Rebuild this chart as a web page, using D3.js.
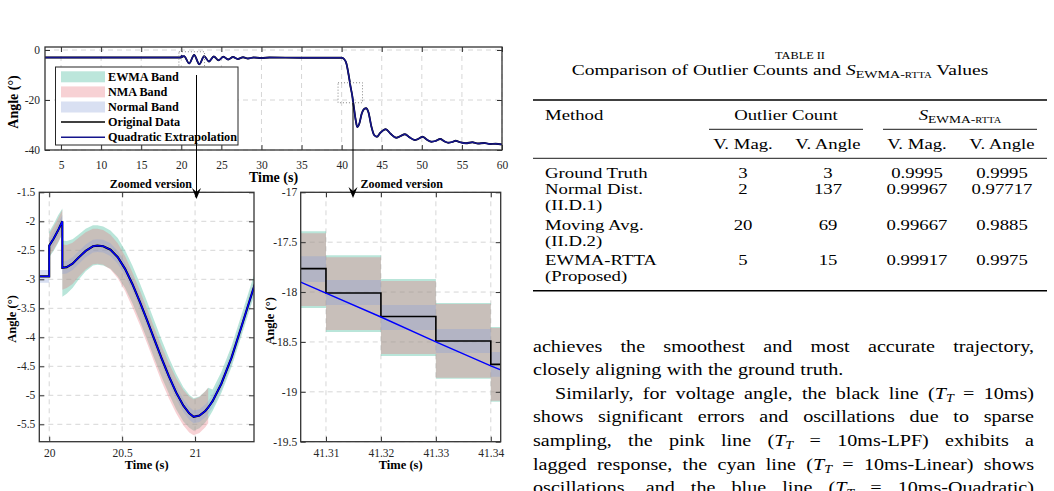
<!DOCTYPE html>
<html>
<head>
<meta charset="utf-8">
<script src="https://cdn.jsdelivr.net/npm/d3@7"></script>
<style>
html, body { margin: 0; padding: 0; background: #fff; }
svg { display: block; }
</style>
</head>
<body>
<script>
// ---- overview (top panel) ----
var overviewTime = [3, 10, 19.95, 20.05, 20.1, 20.33, 20.98, 21.6, 22.25, 22.85, 23.45, 24.05, 24.65, 25.25, 25.85,
    26.45, 27.05, 27.7, 28.3, 29, 30, 31, 35, 40, 40.3, 40.6, 40.9, 41.1, 41.32, 41.55, 41.75, 41.95, 42.2, 42.5,
    42.8, 43.05, 43.35, 43.7, 44.05, 44.4, 44.8, 45.5, 46.1, 46.8, 47.3, 47.9, 48.5, 49.1, 49.6, 50.1, 50.6, 51.2,
    51.7, 52.3, 52.8, 53.3, 53.8, 54.2, 54.8, 55.5, 56.3, 57, 57.8, 58.5, 59.2, 60];
var overviewAngle = [-3, -3, -3, -2.3, -2.8, -2.42, -5.37, -2, -5.7, -2.5, -4.6, -2.6, -4.1, -2.7, -3.8,
    -2.8, -3.6, -2.9, -3.4, -3, -3.2, -3, -3.1, -3.1, -3.6, -5.5, -10.5, -14.5, -18.25, -23.5, -28, -30.8, -29.5, -25.5,
    -23.6, -23.3, -25, -30.5, -34, -34.7, -33.2, -31.7, -33.5, -35.1, -34.5, -33.7, -35, -36, -35.5, -34.7, -35.8, -36.7,
    -36.4, -35.6, -36.5, -37.1, -36.8, -36.3, -36.9, -37.3, -36.9, -37.4, -37.2, -37.6, -37.5, -37.8];
var overviewXTicks = [5, 10, 15, 20, 25, 30, 35, 40, 45, 50, 55, 60];
var overviewYTicks = [0, -20, -40];
// dotted boxes: [t0, t1, angleTop, angleBottom]
var zoomBoxes = [[19.7, 22.9, -0.7, -10], [39.55, 42.6, -13.1, -21.1]];
var legendLabels = ["EWMA Band", "NMA Band", "Normal Band", "Original Data", "Quadratic Extrapolation"];

// ---- zoom 1 (20 s event) ----
var detailTime = [19.93, 20.00, 20.00, 20.03, 20.06, 20.09, 20.09, 20.12, 20.16, 20.20, 20.25, 20.30, 20.33, 20.37,
    20.42, 20.47, 20.52, 20.57, 20.62, 20.67, 20.72, 20.77, 20.82, 20.87, 20.92, 20.96, 20.99, 21.03, 21.07, 21.09,
    21.12, 21.18, 21.25, 21.32, 21.41];
var detailAngle = [-2.95, -2.95, -2.42, -2.30, -2.16, -2.00, -2.80, -2.79, -2.73, -2.63, -2.51, -2.43, -2.42, -2.43,
    -2.49, -2.62, -2.82, -3.08, -3.38, -3.70, -4.03, -4.36, -4.67, -4.95, -5.18, -5.31, -5.37, -5.35, -5.27, -5.21,
    -5.10, -4.80, -4.35, -3.80, -3.08];
var ewmaUp = [null, null, .24, .25, .26, .22, .47, .45, .42, .40, .38, .36, .35, .34, .33, .33, .32, .32, .32, .32,
    .32, .32, .32, .32, .32, .32, .32, .33, .34, .34, .20, .20, .20, .20, .20];
var ewmaDown = [null, null, .20, .21, .22, .22, .50, .46, .42, .38, .35, .33, .33, .33, .33, .33, .33, .33, .33, .33,
    .33, .32, .30, .29, .27, .25, .24, .22, .20, .19, .17, .16, .16, .16, .16];
var nmaUp = [null, null, .20, .21, .21, .20, .40, .38, .36, .34, .32, .30, .29, .28, .26, .24, .22, .20, .20, .20,
    .20, .21, .23, .25, .27, .29, .30, .32, .34, .34, null, null, null, null, null];
var nmaDown = [null, null, .18, .19, .20, .22, .38, .36, .35, .33, .32, .31, .31, .32, .34, .36, .38, .40, .40, .40,
    .40, .40, .38, .36, .34, .33, .32, .30, .28, .27, null, null, null, null, null];
var normalHalf = 0.11;
var detailXTicks = [20, 20.5, 21];
var detailYTicks = [-5.5, -5, -4.5, -4, -3.5, -3, -2.5, -2, -1.5];

// ---- zoom 2 (41.3 s event) ----
var stepEdges = [41.3054, 41.31, 41.32, 41.33, 41.34, 41.3418];
var stepAngle = [-17.765, -18.01, -18.245, -18.49, -18.725];
var stepEwmaHi = [-17.39, -17.63, -17.87, -18.11, -18.35];
var stepEwmaLo = [-18.16, -18.40, -18.64, -18.87, -19.10];
var stepNmaHi = [-17.41, -17.65, -17.89, -18.12, -18.36];
var stepNmaLo = [-18.14, -18.38, -18.62, -18.86, -19.09];
var stepNormHi = [-17.64, -17.88, -18.13, -18.37, -18.60];
var stepNormLo = [-17.90, -18.13, -18.38, -18.61, -18.85];
var extrapTime = [41.3054, 41.31, 41.32, 41.33, 41.34, 41.3418];
var extrapAngle = [-17.90, -18.01, -18.25, -18.50, -18.74, -18.78];
var stepXTicks = [41.31, 41.32, 41.33, 41.34];
var stepYTicks = [-19.5, -19, -18.5, -18, -17.5, -17];

// ---- table ----
var tableMethods = [["Ground Truth"], ["Normal Dist.", "(II.D.1)"], ["Moving Avg.", "(II.D.2)"], ["EWMA-RTTA", "(Proposed)"]];
var outlierMag = ["3", "2", "20", "5"];
var outlierAngle = ["3", "137", "69", "15"];
var scoreMag = ["0.9995", "0.99967", "0.99667", "0.99917"];
var scoreAngle = ["0.9995", "0.97717", "0.9885", "0.9975"];

// ---- body text ----
var paraLines = [
    "achieves the smoothest and most accurate trajectory,",
    "closely aligning with the ground truth.",
    "Similarly, for voltage angle, the black line (T_T = 10ms)",
    "shows significant errors and oscillations due to sparse",
    "sampling, the pink line (T_T = 10ms-LPF) exhibits a",
    "lagged response, the cyan line (T_T = 10ms-Linear) shows",
    "oscillations, and the blue line (T_T = 10ms-Quadratic)"
];

var colors = {
    ewma: "rgb(80,190,160)", nma: "rgb(230,115,125)", normal: "rgb(140,160,215)",
    navy: "#14148c", blue: "#0000ff", frame: "#333333", grid: "#d6d6d6"
};
var serif = "'Liberation Serif', 'Times New Roman', serif";

var svg = d3.select("body").append("svg")
    .attr("width", 1054).attr("height", 491)
    .attr("font-family", serif)
    .style("background", "#fff");

var clipCount = 0;

function makePanel(p) {
    var x = d3.scaleLinear().domain(p.xDomain).range([p.left, p.right]);
    var y = d3.scaleLinear().domain(p.yDomain).range([p.bottom, p.top]);
    var g = svg.append("g");
    var id = "clip" + (clipCount++);
    svg.append("clipPath").attr("id", id).append("rect")
        .attr("x", p.left).attr("y", p.top)
        .attr("width", p.right - p.left).attr("height", p.bottom - p.top);
    var grid = g.append("g").attr("stroke", colors.grid).attr("stroke-dasharray", "5,4").attr("stroke-width", 1);
    grid.selectAll(".gx").data(p.xTicks).join("line").attr("class", "gx")
        .attr("x1", function(d) { return x(d); }).attr("x2", function(d) { return x(d); })
        .attr("y1", p.top).attr("y2", p.bottom);
    grid.selectAll(".gy").data(p.yTicks).join("line").attr("class", "gy")
        .attr("y1", function(d) { return y(d); }).attr("y2", function(d) { return y(d); })
        .attr("x1", p.left).attr("x2", p.right);
    var plot = g.append("g").attr("clip-path", "url(#" + id + ")");
    return { x: x, y: y, g: g, plot: plot, p: p };
}

function finishPanel(P) {
    var x = P.x, y = P.y, g = P.g, p = P.p;
    var style = function(sel) {
        sel.select(".domain").remove();
        sel.attr("font-family", null).attr("font-size", p.tickFont);
        sel.selectAll(".tick line").attr("stroke", colors.frame);
        sel.selectAll(".tick text").attr("fill", "#262626");
    };
    var fmt = function(d) { return String(d); };
    g.append("g").attr("transform", "translate(0," + p.bottom + ")")
        .call(d3.axisBottom(x).tickValues(p.xTicks).tickSize(-5).tickPadding(p.xPad).tickFormat(fmt)).call(style);
    g.append("g").attr("transform", "translate(0," + p.top + ")")
        .call(d3.axisTop(x).tickValues(p.xTicks).tickSize(-5).tickFormat("")).call(style);
    g.append("g").attr("transform", "translate(" + p.left + ",0)")
        .call(d3.axisLeft(y).tickValues(p.yTicks).tickSize(-5).tickPadding(p.yPad).tickFormat(fmt)).call(style);
    g.append("g").attr("transform", "translate(" + p.right + ",0)")
        .call(d3.axisRight(y).tickValues(p.yTicks).tickSize(-5).tickFormat("")).call(style);
    g.append("rect").attr("x", p.left).attr("y", p.top)
        .attr("width", p.right - p.left).attr("height", p.bottom - p.top)
        .attr("fill", "none").attr("stroke", colors.frame).attr("stroke-width", 1.3);
    // axis titles
    g.append("text").attr("x", (p.left + p.right) / 2).attr("y", p.xLabelY)
        .attr("text-anchor", "middle").attr("font-weight", "bold").attr("font-size", p.labelFont)
        .text("Time (s)");
    g.append("text").attr("transform", "translate(" + p.yLabelX + "," + p.yLabelY + ") rotate(-90)")
        .attr("text-anchor", "middle").attr("font-weight", "bold").attr("font-size", p.labelFont)
        .text("Angle (°)");
}

// ================= top overview panel =================
var ov = makePanel({
    left: 45, right: 502, top: 47, bottom: 150,
    xDomain: [3, 60], yDomain: [-40, 1.2],
    xTicks: overviewXTicks, yTicks: overviewYTicks,
    tickFont: 11.5, xPad: 10.5, yPad: 5, labelFont: 14,
    xLabelY: 182, yLabelX: 18, yLabelY: 102
});

var overviewPts = overviewTime.map(function(t, i) { return [t, overviewAngle[i]]; });
var ovLine = d3.line().x(function(d) { return ov.x(d[0]); }).y(function(d) { return ov.y(d[1]); })
    .curve(d3.curveMonotoneX);
ov.plot.append("path").datum(overviewPts).attr("d", ovLine)
    .attr("fill", "none").attr("stroke", "#000").attr("stroke-width", 1.8);
ov.plot.append("path").datum(overviewPts).attr("d", ovLine)
    .attr("fill", "none").attr("stroke", colors.navy).attr("stroke-width", 1.5);

ov.g.selectAll(".zbox").data(zoomBoxes).join("rect").attr("class", "zbox")
    .attr("x", function(d) { return ov.x(d[0]); })
    .attr("y", function(d) { return ov.y(d[2]); })
    .attr("width", function(d) { return ov.x(d[1]) - ov.x(d[0]); })
    .attr("height", function(d) { return ov.y(d[3]) - ov.y(d[2]); })
    .attr("fill", "none").attr("stroke", "#777").attr("stroke-width", 0.9).attr("stroke-dasharray", "1,2");

// legend
var leg = ov.g.append("g");
leg.append("rect").attr("x", 55.5).attr("y", 67).attr("width", 182.5).attr("height", 78)
    .attr("fill", "#fff").attr("stroke", "#262626").attr("stroke-width", 1);
var legRows = leg.selectAll(".lr").data(legendLabels).join("g").attr("class", "lr")
    .attr("transform", function(d, i) { return "translate(0," + (76.8 + i * 15.1) + ")"; });
legRows.each(function(d, i) {
    var r = d3.select(this);
    if (i < 3) {
        var c = [colors.ewma, colors.nma, colors.normal][i];
        r.append("rect").attr("x", 61).attr("y", -5.5).attr("width", 44).attr("height", 11)
            .attr("fill", c).attr("fill-opacity", i === 0 ? 0.38 : 0.33);
    } else {
        r.append("line").attr("x1", 61).attr("x2", 105).attr("y1", 0).attr("y2", 0)
            .attr("stroke", i === 3 ? "#000" : colors.navy).attr("stroke-width", 1.5);
    }
    r.append("text").attr("x", 108).attr("y", 4).attr("font-size", 12.2).attr("font-weight", "bold").text(d);
});

// ================= zoom panel 1 =================
var z1 = makePanel({
    left: 39.3, right: 254, top: 192.3, bottom: 441.7,
    xDomain: [19.932, 21.404], yDomain: [-5.8, -1.5],
    xTicks: detailXTicks, yTicks: detailYTicks,
    tickFont: 11.5, xPad: 6.8, yPad: 4, labelFont: 12.5,
    xLabelY: 469, yLabelX: 16, yLabelY: 319
});

var detail = detailTime.map(function(t, i) {
    return { t: t, a: detailAngle[i], eu: ewmaUp[i], ed: ewmaDown[i], nu: nmaUp[i], nd: nmaDown[i] };
});
function bandArea(P, upKey, downKey) {
    return d3.area()
        .defined(function(d) { return d[upKey] != null; })
        .x(function(d) { return P.x(d.t); })
        .y0(function(d) { return P.y(d.a - d[downKey]); })
        .y1(function(d) { return P.y(d.a + d[upKey]); });
}
z1.plot.append("path").datum(detail).attr("d", bandArea(z1, "eu", "ed"))
    .attr("fill", colors.ewma).attr("fill-opacity", 0.4);
z1.plot.append("path").datum(detail).attr("d", bandArea(z1, "nu", "nd"))
    .attr("fill", colors.nma).attr("fill-opacity", 0.33);
z1.plot.append("path").datum(detail).attr("d", d3.area()
        .x(function(d) { return z1.x(d.t); })
        .y0(function(d) { return z1.y(d.a - normalHalf); })
        .y1(function(d) { return z1.y(d.a + normalHalf); }))
    .attr("fill", colors.normal).attr("fill-opacity", 0.35);
var z1Line = d3.line().x(function(d) { return z1.x(d.t); }).y(function(d) { return z1.y(d.a); });
z1.plot.append("path").datum(detail).attr("d", z1Line)
    .attr("fill", "none").attr("stroke", "#000").attr("stroke-width", 2.1);
z1.plot.append("path").datum(detail).attr("d", z1Line)
    .attr("fill", "none").attr("stroke", colors.blue).attr("stroke-width", 1.4);

// ================= zoom panel 2 =================
var z2 = makePanel({
    left: 300.7, right: 500.7, top: 192.3, bottom: 441.7,
    xDomain: [41.3054, 41.3418], yDomain: [-19.5, -17],
    xTicks: stepXTicks, yTicks: stepYTicks,
    tickFont: 11.5, xPad: 6.8, yPad: 3.5, labelFont: 12.5,
    xLabelY: 469, yLabelX: 274, yLabelY: 321
});

function stepPoints(lo, hi) {
    return stepEdges.map(function(t, i) {
        var k = Math.min(i, lo.length - 1);
        return { t: t, lo: lo[k], hi: hi[k] };
    });
}
var stepBand = d3.area().curve(d3.curveStepAfter)
    .x(function(d) { return z2.x(d.t); })
    .y0(function(d) { return z2.y(d.lo); })
    .y1(function(d) { return z2.y(d.hi); });
z2.plot.append("path").datum(stepPoints(stepEwmaLo, stepEwmaHi)).attr("d", stepBand)
    .attr("fill", colors.ewma).attr("fill-opacity", 0.4);
z2.plot.append("path").datum(stepPoints(stepNmaLo, stepNmaHi)).attr("d", stepBand)
    .attr("fill", colors.nma).attr("fill-opacity", 0.33);
z2.plot.append("path").datum(stepPoints(stepNormLo, stepNormHi)).attr("d", stepBand)
    .attr("fill", colors.normal).attr("fill-opacity", 0.35);
var stepPts = stepPoints(stepAngle, stepAngle);
z2.plot.append("path").datum(stepPts)
    .attr("d", d3.line().curve(d3.curveStepAfter).x(function(d) { return z2.x(d.t); }).y(function(d) { return z2.y(d.lo); }))
    .attr("fill", "none").attr("stroke", "#000").attr("stroke-width", 1.6);
var extrapPts = extrapTime.map(function(t, i) { return [t, extrapAngle[i]]; });
z2.plot.append("path").datum(extrapPts)
    .attr("d", d3.line().x(function(d) { return z2.x(d[0]); }).y(function(d) { return z2.y(d[1]); }))
    .attr("fill", "none").attr("stroke", colors.blue).attr("stroke-width", 1.4);

finishPanel(ov);
finishPanel(z1);
finishPanel(z2);
// legend must sit above top axis ticks
leg.raise();

// ---- arrows and "Zoomed version" labels ----
function arrow(x, y0, yTip) {
    svg.append("line").attr("x1", x).attr("x2", x).attr("y1", y0).attr("y2", yTip - 6)
        .attr("stroke", "#000").attr("stroke-width", 1);
    svg.append("path")
        .attr("d", "M" + x + "," + yTip + " L" + (x - 4.5) + "," + (yTip - 11) + " L" + x + "," + (yTip - 7) +
            " L" + (x + 4.5) + "," + (yTip - 11) + " Z")
        .attr("fill", "#000");
}
arrow(196.5, ov.y(zoomBoxes[0][3]), 199);
arrow(353, ov.y(zoomBoxes[1][3]), 198);
svg.append("text").attr("x", 192).attr("y", 187.5).attr("text-anchor", "end")
    .attr("font-size", 12).attr("font-weight", "bold").text("Zoomed version");
svg.append("text").attr("x", 360.5).attr("y", 187.5)
    .attr("font-size", 12).attr("font-weight", "bold").text("Zoomed version");

// ================= table =================
// Times glyphs are narrower than the paper's Computer Modern, so text is stretched sideways
var tableSize = 15, tableStretch = 1.25;
var tab = svg.append("g").attr("fill", "#000");
function stext(g, x, y, size, anchor, stretch) {
    return g.append("text")
        .attr("transform", "translate(" + x + "," + y + ") scale(" + stretch + ",1)")
        .attr("font-size", size).attr("text-anchor", anchor || "start");
}
function addS(t, size) {
    t.append("tspan").attr("font-style", "italic").text("S");
    t.append("tspan").attr("font-size", size * 0.72).attr("dy", size * 0.22).text("EWMA-");
    t.append("tspan").attr("font-size", size * 0.56).text("RTTA");
}
stext(tab, 800, 59, 11, "middle", 1.12).text("TABLE II");
var capSize = 15;
var cap = stext(tab, 780, 74.5, capSize, "middle", 1.3);
cap.append("tspan").text("Comparison of Outlier Counts and ");
addS(cap, capSize);
cap.append("tspan").attr("dy", -capSize * 0.22).text(" Values");

tab.append("line").attr("x1", 533).attr("x2", 1047).attr("y1", 100).attr("y2", 100).attr("stroke", "#000").attr("stroke-width", 1.6);
tab.append("line").attr("x1", 709).attr("x2", 863).attr("y1", 129.3).attr("y2", 129.3).attr("stroke", "#000").attr("stroke-width", 0.9);
tab.append("line").attr("x1", 883).attr("x2", 1037).attr("y1", 129.3).attr("y2", 129.3).attr("stroke", "#000").attr("stroke-width", 0.9);
tab.append("line").attr("x1", 533).attr("x2", 1047).attr("y1", 158.3).attr("y2", 158.3).attr("stroke", "#000").attr("stroke-width", 0.9);
tab.append("line").attr("x1", 533).attr("x2", 1047).attr("y1", 290.7).attr("y2", 290.7).attr("stroke", "#000").attr("stroke-width", 1.6);

stext(tab, 545, 120, tableSize, "start", tableStretch).text("Method");
stext(tab, 786, 120, tableSize, "middle", tableStretch).text("Outlier Count");
addS(stext(tab, 960, 120, tableSize, "middle", tableStretch), tableSize);
var colX = [743, 828, 917, 1002];
["V. Mag.", "V. Angle", "V. Mag.", "V. Angle"].forEach(function(h, i) {
    stext(tab, colX[i], 149.3, tableSize, "middle", tableStretch).text(h);
});
var rowY = [177.7, 194.3, 230, 265];
tableMethods.forEach(function(m, r) {
    m.forEach(function(line, k) {
        stext(tab, 545, rowY[r] + k * 15.7, tableSize, "start", tableStretch).text(line);
    });
    [outlierMag[r], outlierAngle[r], scoreMag[r], scoreAngle[r]].forEach(function(v, c) {
        stext(tab, colX[c], rowY[r], tableSize, "middle", tableStretch).text(v);
    });
});

// ================= body text (justified) =================
var bodySize = 17.2, bodyStretch = 1.17;
var para = svg.append("g").attr("font-size", bodySize).attr("fill", "#000");
function drawWord(g, word) {
    var t = g.append("text");
    var shift = 0;
    word.split(/(T_T)/).filter(function(p) { return p; }).forEach(function(p) {
        if (p === "T_T") {
            t.append("tspan").attr("font-style", "italic").attr("dy", -shift).text("T");
            t.append("tspan").attr("font-style", "italic").attr("font-size", bodySize * 0.7)
                .attr("dy", bodySize * 0.2).text("T");
            shift = bodySize * 0.2;
        } else {
            t.append("tspan").attr("dy", -shift).text(p);
            shift = 0;
        }
    });
    return t;
}
paraLines.forEach(function(line, i) {
    var y = 351.5 + i * 23.6;
    var x0 = i === 2 ? 555 : 533;
    var x1 = 1034;
    var justify = i !== 1;
    var words = line.split(" ");
    var g = para.append("g");
    var nodes = words.map(function(w) { return drawWord(g, w); });
    var widths = nodes.map(function(n) { return n.node().getComputedTextLength() * bodyStretch; });
    var total = d3.sum(widths);
    var gap = justify ? (x1 - x0 - total) / (words.length - 1) : bodySize * 0.27 * bodyStretch;
    var cx = x0;
    nodes.forEach(function(n, k) {
        n.attr("transform", "translate(" + cx + "," + y + ") scale(" + bodyStretch + ",1)");
        cx += widths[k] + gap;
    });
});
</script>
</body>
</html>
